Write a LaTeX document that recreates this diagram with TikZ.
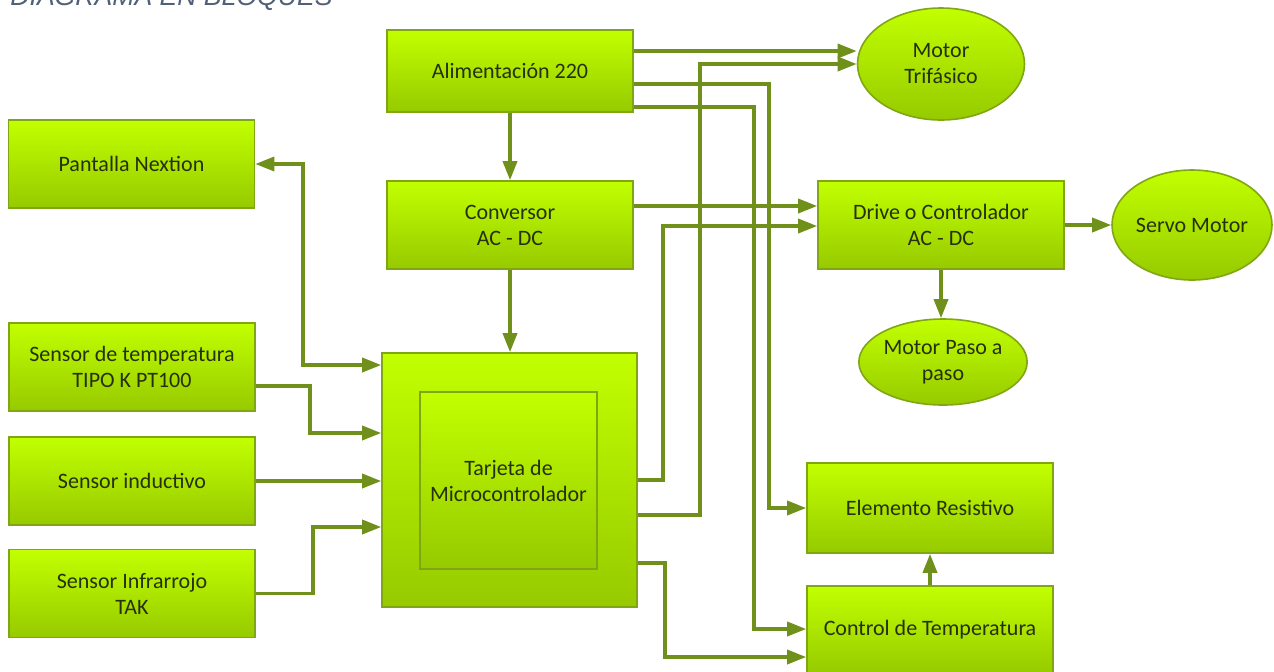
\documentclass[tikz,border=0pt]{standalone}
\usepackage{fontspec}
\setmainfont{Carlito}
\newfontfamily\titlefont{Liberation Sans}
\usetikzlibrary{arrows.meta,shapes.geometric}
\definecolor{limetop}{RGB}{194,255,0}
\definecolor{limebot}{RGB}{150,202,0}
\definecolor{blkedge}{RGB}{128,166,20}
\definecolor{wirecol}{RGB}{112,144,28}
\definecolor{txtdark}{RGB}{38,48,12}
\definecolor{titlegray}{RGB}{80,96,120}

\begin{document}
\begin{tikzpicture}[x=0.5pt, y=-0.5pt,
    blk/.style={rectangle, draw=blkedge, line width=0.8pt, top color=limetop, bottom color=limebot,
      text=txtdark, font=\fontsize{11}{13}\selectfont, align=center, inner sep=0pt,
      minimum width=123pt, minimum height=44pt},
    elip/.style={ellipse, draw=blkedge, line width=0.8pt, top color=limetop, bottom color=limebot,
      text=txtdark, font=\fontsize{11}{13}\selectfont, align=center, inner sep=0pt},
    wire/.style={draw=wirecol, line width=1.7pt, -{Triangle[length=9.5pt, width=7pt]}}]
  \useasboundingbox (0,0) rectangle (1274,671);
  % ---------------- title ----------------
  \node[anchor=base west, inner sep=0pt, text=titlegray,
    font=\titlefont\itshape\fontsize{13.3}{15}\selectfont] (titulo) at (10,5) {DIAGRAMA EN BLOQUES};
  % ---------------- blocks ----------------
  \node[blk, minimum height=41pt] (alim) at (510,71) {Alimentación 220};
  \node[blk] (conv)  at (510,225)   {Conversor\\AC - DC};
  \node[blk] (pant)  at (131.5,164) {Pantalla Nextion};
  \node[blk] (stemp) at (132,367)   {Sensor de temperatura\\TIPO K PT100};
  \node[blk] (sind)  at (132,481)   {Sensor inductivo};
  \node[blk] (sir)   at (132,593.5) {Sensor Infrarrojo\\TAK};
  \node[blk, minimum width=127.5pt, minimum height=127pt] (micro) at (509.5,480) {};
  \node[blk, minimum width=88.5pt, minimum height=88.5pt] (tarj) at (508.5,480.5) {Tarjeta de\\Microcontrolador};
  \node[blk] (drive) at (941,225)   {Drive o Controlador\\AC - DC};
  \node[blk, minimum height=45pt] (resis) at (930,508) {Elemento Resistivo};
  \node[blk] (ctemp) at (930,630)   {Control de Temperatura};
  % ---------------- motors ----------------
  \node[elip, minimum width=83.5pt, minimum height=56pt] (trif)  at (941,64)   {Motor\\Trifásico};
  \node[elip, minimum width=80pt,   minimum height=55pt] (servo) at (1192,225) {Servo Motor};
  \node[elip, minimum width=84pt,   minimum height=43pt] (paso)  at (943,362)  {Motor Paso a\\paso};
  % ---------------- inputs to the board ----------------
  \draw[wire, {Triangle[length=9.5pt, width=7pt]}-{Triangle[length=9.5pt, width=7pt]}]
    (pant.east) -| (303,365) -- (micro.west |- 0,365);
  \draw[wire] (stemp.east |- 0,386) -| (310,433) -- (micro.west |- 0,433);
  \draw[wire] (sind.east) -- (micro.west |- sind.east);
  \draw[wire] (sir.east) -| (313,527) -- (micro.west |- 0,527);
  % ---------------- supply ----------------
  \draw[wire] (alim.south) -- (conv.north);
  \draw[wire] (conv.south) -- (conv.south |- micro.north);
  \draw[wire] (alim.east |- 0,51) -- (trif.west |- 0,51);
  \draw[wire] (alim.east |- 0,84) -| (769,508) -- (resis.west);
  \draw[wire] (alim.east |- 0,107) -| (754,629) -- (ctemp.west |- 0,629);
  \draw[wire] (conv.east |- 0,206) -- (drive.west |- 0,206);
  % ---------------- outputs of the board ----------------
  \draw[wire] (micro.east |- 0,480) -| (663,226) -- (drive.west |- 0,226);
  \draw[wire] (micro.east |- 0,515) -| (700,64) -- (trif.west);
  \draw[wire] (micro.east |- 0,563) -| (665,657) -- (ctemp.west |- 0,657);
  % ---------------- drive and heater ----------------
  \draw[wire] (drive.east) -- (servo.west);
  \draw[wire] (drive.south) -- (drive.south |- paso.north);
  \draw[wire] (ctemp.north) -- (resis.south);
\end{tikzpicture}
\end{document}
